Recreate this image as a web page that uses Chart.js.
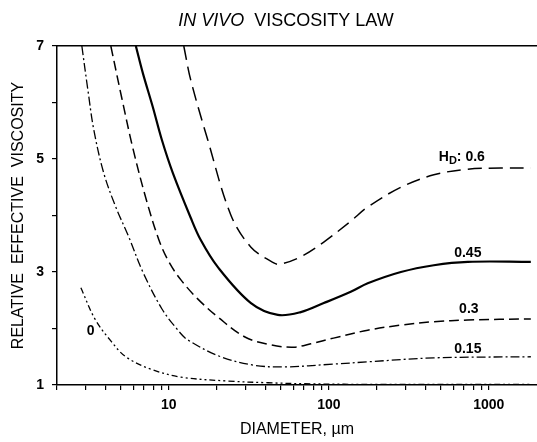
<!DOCTYPE html>
<html><head><meta charset="utf-8">
<script src="https://cdn.jsdelivr.net/npm/chart.js@4"></script>
<style>html,body{margin:0;padding:0;background:#fff}#wrap{width:537px;height:442px;position:relative}</style>
</head><body><div id="wrap"><canvas id="c"></canvas></div>
<script>
// Discharge hematocrit levels (curve labels)
const hdLevels = ['0.6', '0.45', '0.3', '0.15', '0'];

// Diameter (µm) and relative effective viscosity
const d060 = [12.4, 13.7, 17.5, 24.4, 32.6, 45.3, 50, 66.8, 93, 137, 175, 282, 453, 739, 1189, 1830];
const v060 = [7.0, 6.40, 5.34, 4.01, 3.44, 3.16, 3.14, 3.27, 3.53, 3.90, 4.15, 4.50, 4.72, 4.82, 4.84, 4.84];

const d045 = [6.22, 6.88, 7.94, 9.04, 10.6, 13.7, 15.8, 20.2, 32.6, 48, 66.8, 93, 137, 175, 282, 453, 739, 1830];
const v045 = [7.0, 6.52, 5.92, 5.34, 4.75, 3.96, 3.57, 3.09, 2.45, 2.24, 2.29, 2.45, 2.65, 2.80, 3.00, 3.12, 3.18, 3.18];

const d030 = [4.34, 5.08, 5.96, 7.18, 8.66, 10, 11.9, 15.2, 20.5, 29.9, 43.4, 60.4, 77.2, 107, 175, 282, 453, 739, 1830];
const v030 = [7.0, 6.08, 5.19, 4.31, 3.57, 3.18, 2.86, 2.52, 2.19, 1.85, 1.71, 1.67, 1.73, 1.83, 1.97, 2.06, 2.12, 2.15, 2.17];

const d015 = [2.86, 3.12, 3.40, 3.92, 4.66, 5.62, 6.88, 9.04, 11.4, 13.1, 21.1, 34.0, 52.3, 107, 175, 453, 1830];
const v015 = [7.0, 6.22, 5.51, 4.75, 4.15, 3.62, 3.00, 2.35, 1.97, 1.80, 1.50, 1.35, 1.32, 1.37, 1.41, 1.48, 1.50];

const d000 = [2.82, 3.45, 4.34, 5.38, 7.72, 11.9, 23.4, 41.6, 77.2, 200, 1830];
const v000 = [2.72, 2.17, 1.78, 1.50, 1.28, 1.14, 1.07, 1.04, 1.02, 1.01, 1.01];

// Curve label anchors (data coordinates)
const labelD = [678, 739, 750, 739, 3.25];
const labelV = [5.04, 3.34, 2.35, 1.64, 1.96];

// Axis ticks
const xLabelledTicks = [10, 100, 1000];
const xMinorTicks = [2,3,4,5,6,7,8,9,20,30,40,50,60,70,80,90,200,300,400,500,600,700,800,900];
const yTicks = [1, 2, 3, 4, 5, 6, 7];
const yLabelledTicks = [1, 3, 5, 7];

const pts = (ds, vs) => ds.map((d, i) => ({x: d, y: vs[i]}));
const allX = xMinorTicks.concat(xLabelledTicks).sort((a, b) => a - b);
const FAM = '"Liberation Sans", Arial, sans-serif';

const styles = [
  {dash: [14, 7], width: 1.5},
  {dash: [], width: 2.2},
  {dash: [10, 5], width: 1.5},
  {dash: [9, 3, 2, 3], width: 1.3},
  {dash: [6, 3, 2, 3, 2, 3], width: 1.3}
];
const series = [pts(d060, v060), pts(d045, v045), pts(d030, v030), pts(d015, v015), pts(d000, v000)];

const titlePlugin = {
  id: 'titlePlugin',
  afterDraw(chart) {
    const ctx = chart.ctx;
    ctx.save();
    ctx.fillStyle = '#000';
    ctx.textBaseline = 'alphabetic';
    const f1 = 'italic 18px ' + FAM;
    const f2 = '18px ' + FAM;
    const t1 = 'IN VIVO', t2 = '  VISCOSITY LAW';
    ctx.font = f1; const w1 = ctx.measureText(t1).width;
    ctx.font = f2; const w2 = ctx.measureText(t2).width;
    let x = 286 - (w1 + w2) / 2;
    ctx.font = f1; ctx.fillText(t1, x, 26);
    ctx.font = f2; ctx.fillText(t2, x + w1, 26);
    ctx.restore();
  }
};

const labelPlugin = {
  id: 'labelPlugin',
  afterDatasetsDraw(chart) {
    const ctx = chart.ctx, xs = chart.scales.x, ys = chart.scales.y;
    ctx.save();
    ctx.fillStyle = '#000';
    ctx.textBaseline = 'middle';
    const f = 'bold 14px ' + FAM;
    const fs = 'bold 11px ' + FAM;
    hdLevels.forEach((lv, i) => {
      const px = xs.getPixelForValue(labelD[i]);
      const py = ys.getPixelForValue(labelV[i]);
      if (i === 0) {
        ctx.font = f; const wH = ctx.measureText('H').width;
        ctx.font = fs; const wD = ctx.measureText('D').width;
        ctx.font = f; const wR = ctx.measureText(': ' + lv).width;
        let x = px - (wH + wD + wR) / 2;
        ctx.textAlign = 'left';
        ctx.font = f; ctx.fillText('H', x, py);
        ctx.font = fs; ctx.fillText('D', x + wH, py + 4);
        ctx.font = f; ctx.fillText(': ' + lv, x + wH + wD, py);
      } else {
        ctx.textAlign = 'center';
        ctx.font = f; ctx.fillText(lv, px, py);
      }
    });
    ctx.restore();
  }
};

new Chart(document.getElementById('c'), {
  type: 'line',
  data: {
    datasets: series.map((s, i) => ({
      label: 'HD ' + hdLevels[i],
      data: s,
      borderColor: '#000',
      borderWidth: styles[i].width,
      borderDash: styles[i].dash,
      pointRadius: 0,
      fill: false,
      tension: 0.35
    }))
  },
  options: {
    responsive: true,
    maintainAspectRatio: false,
    animation: false,
    devicePixelRatio: 1,
    layout: {padding: {top: 46, right: 0, left: 0, bottom: 0}},
    plugins: {legend: {display: false}, tooltip: {enabled: false}, title: {display: false}},
    scales: {
      x: {
        type: 'logarithmic', min: 2, max: 2000, position: 'bottom',
        afterBuildTicks: s => { s.ticks = allX.map(v => ({value: v})); },
        afterFit: s => { s.height = 57; },
        ticks: {
          autoSkip: false, maxRotation: 0, color: '#000', padding: 7,
          font: {family: FAM, size: 14, weight: 'bold'},
          callback: v => xLabelledTicks.includes(v) ? String(v) : ''
        },
        grid: {display: true, drawOnChartArea: false, drawTicks: true, tickLength: 5, color: '#000', lineWidth: 1.2},
        border: {display: true, color: '#000', width: 1.5},
        title: {display: true, text: 'DIAMETER, µm', color: '#000',
          font: {family: FAM, size: 16}, padding: {top: 0, bottom: 3}}
      },
      x2: {
        type: 'logarithmic', min: 2, max: 2000, position: 'top',
        afterFit: s => { s.height = 0; },
        ticks: {display: false},
        grid: {display: false},
        border: {display: true, color: '#000', width: 1.5}
      },
      y: {
        type: 'linear', min: 1, max: 7, position: 'left',
        afterBuildTicks: s => { s.ticks = yTicks.map(v => ({value: v})); },
        afterFit: s => { s.width = 57; },
        ticks: {
          color: '#000', padding: 8,
          font: {family: FAM, size: 14, weight: 'bold'},
          callback: v => yLabelledTicks.includes(v) ? String(v) : ''
        },
        grid: {display: true, drawOnChartArea: false, drawTicks: true, tickLength: 5, color: '#000', lineWidth: 1.2},
        border: {display: true, color: '#000', width: 1.5},
        title: {display: true, text: 'RELATIVE  EFFECTIVE  VISCOSITY', color: '#000',
          font: {family: FAM, size: 16}, padding: {top: 9, bottom: 0}}
      }
    }
  },
  plugins: [titlePlugin, labelPlugin]
});
</script>
</body></html>
